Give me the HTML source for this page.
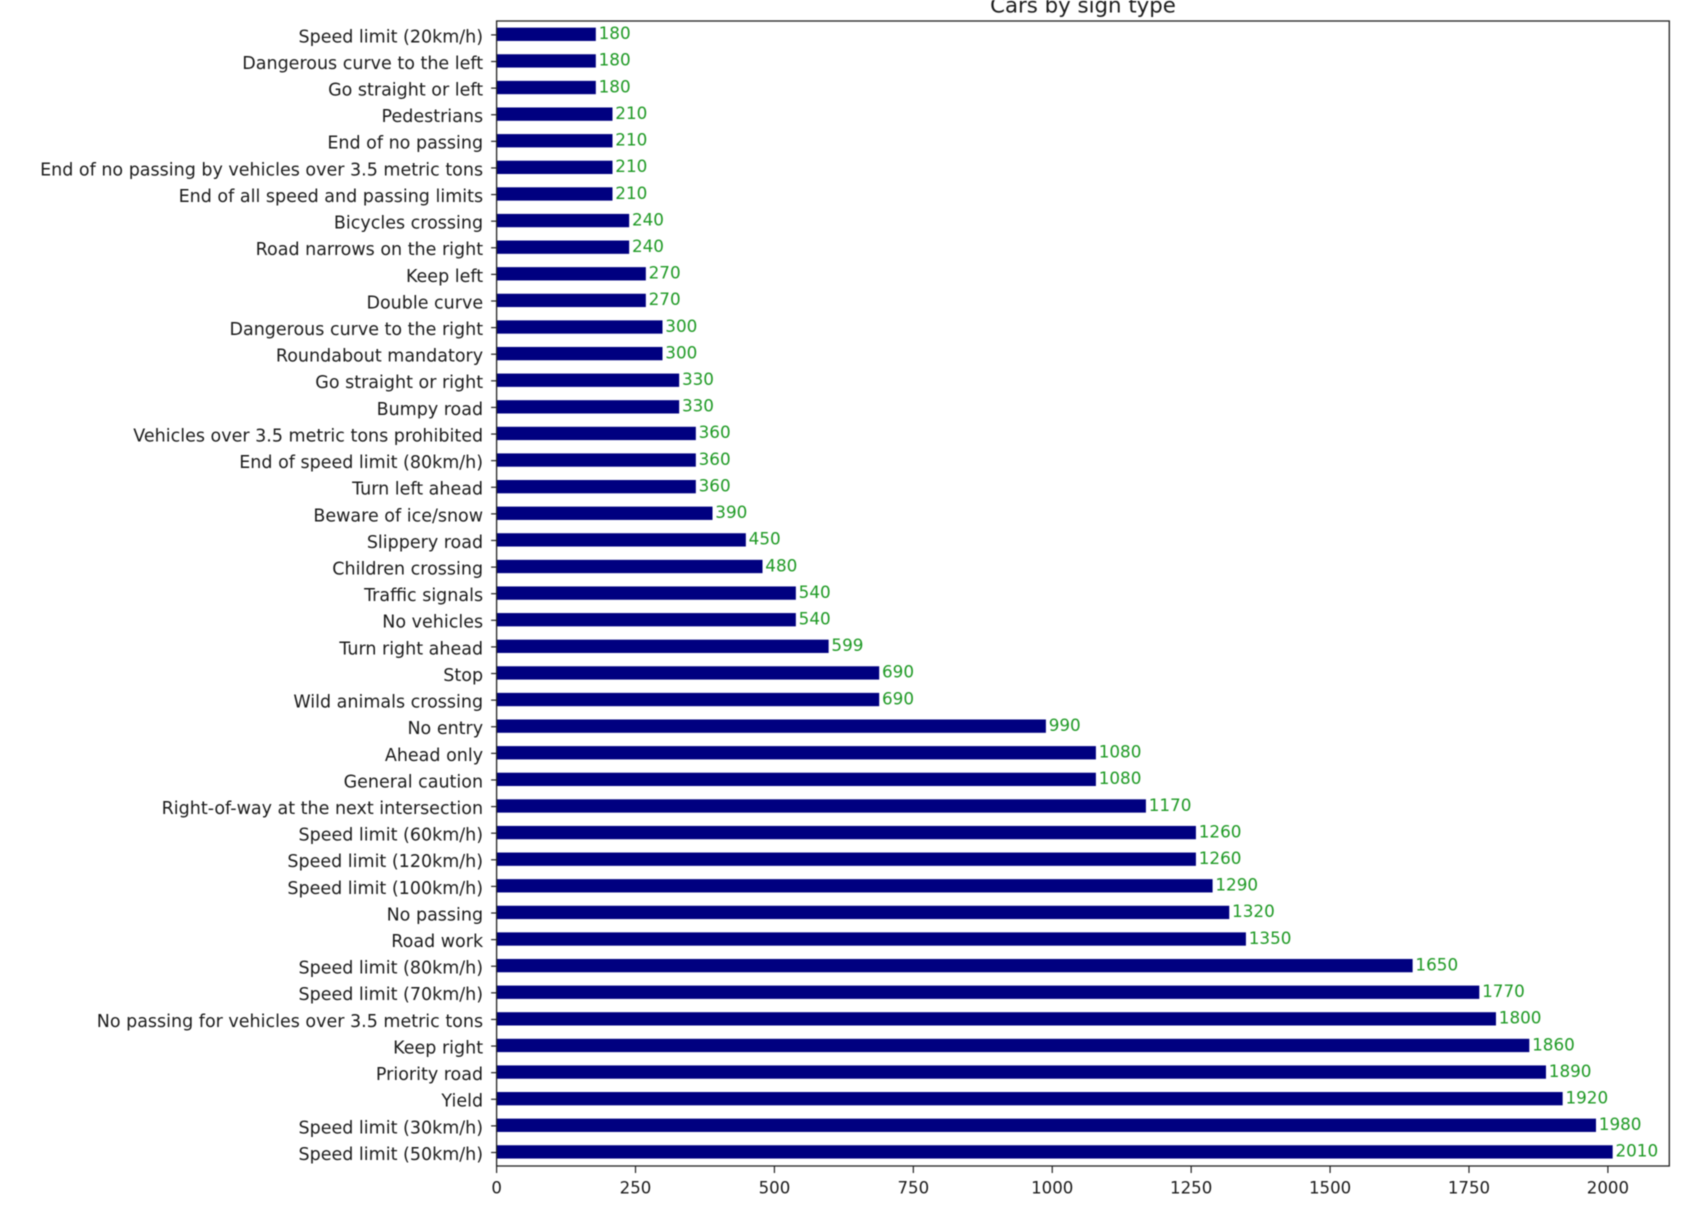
<!DOCTYPE html>
<html>
<head>
<meta charset="utf-8">
<title>Cars by sign type</title>
<style>
  html, body { margin: 0; padding: 0; background: #fff; width: 1698px; height: 1218px; overflow: hidden; }
  svg { display: block; filter: blur(0.5px); }
  text { font-family: "DejaVu Sans", "Liberation Sans", sans-serif; }
</style>
</head>
<body>
<svg id="chart" xmlns="http://www.w3.org/2000/svg" width="1698" height="1218" viewBox="0 0 1698 1218">
  <rect x="0" y="0" width="1698" height="1218" fill="#ffffff"/>
  <text x="1083" y="12.5" font-size="21.3" fill="#1c1c1c" text-anchor="middle">Cars by sign type</text>
  <g id="bars"></g>
  <g id="value-labels"></g>
  <g id="y-axis"></g>
  <g id="x-axis"></g>
  <rect x="496.6" y="21" width="1172.7" height="1145" fill="none" stroke="#222222" stroke-width="1.3"/>
</svg>
<script>
const categories = [
  "Speed limit (50km/h)", "Speed limit (30km/h)", "Yield", "Priority road", "Keep right",
  "No passing for vehicles over 3.5 metric tons", "Speed limit (70km/h)", "Speed limit (80km/h)",
  "Road work", "No passing", "Speed limit (100km/h)", "Speed limit (120km/h)", "Speed limit (60km/h)",
  "Right-of-way at the next intersection", "General caution", "Ahead only", "No entry",
  "Wild animals crossing", "Stop", "Turn right ahead", "No vehicles", "Traffic signals",
  "Children crossing", "Slippery road", "Beware of ice/snow", "Turn left ahead",
  "End of speed limit (80km/h)", "Vehicles over 3.5 metric tons prohibited", "Bumpy road",
  "Go straight or right", "Roundabout mandatory", "Dangerous curve to the right", "Double curve",
  "Keep left", "Road narrows on the right", "Bicycles crossing", "End of all speed and passing limits",
  "End of no passing by vehicles over 3.5 metric tons", "End of no passing", "Pedestrians",
  "Go straight or left", "Dangerous curve to the left", "Speed limit (20km/h)"
];
const counts = [
  2010, 1980, 1920, 1890, 1860,
  1800, 1770, 1650,
  1350, 1320, 1290, 1260, 1260,
  1170, 1080, 1080, 990,
  690, 690, 599, 540, 540,
  480, 450, 390, 360,
  360, 360, 330,
  330, 300, 300, 270,
  270, 240, 240, 210,
  210, 210, 210,
  180, 180, 180
];
const xTicks = [0, 250, 500, 750, 1000, 1250, 1500, 1750, 2000];

const NS = "http://www.w3.org/2000/svg";
const plotLeft = 496.6, plotRight = 1669.3, plotTop = 21, plotBottom = 1165.2;
const xMax = Math.max.apply(null, counts) * 1.05;

function xScale(v) {
  return plotLeft + (v / xMax) * (plotRight - plotLeft);
}
function yScale(i) {
  return plotBottom - ((i + 0.5) / categories.length) * (plotBottom - plotTop);
}
const bandHeight = (plotBottom - plotTop) / categories.length;

function make(tag, attrs, parent, content) {
  const el = document.createElementNS(NS, tag);
  for (const k in attrs) el.setAttribute(k, attrs[k]);
  if (content !== undefined) el.textContent = content;
  parent.appendChild(el);
  return el;
}

const barsG = document.getElementById("bars");
const valuesG = document.getElementById("value-labels");
const yG = document.getElementById("y-axis");
const xG = document.getElementById("x-axis");

categories.forEach(function (name, i) {
  const cy = yScale(i);

  const bar = make("rect", {
    x: xScale(0), y: cy - bandHeight * 0.25,
    width: Math.max(0, xScale(counts[i]) - xScale(0) - 0.8), height: bandHeight * 0.5, fill: "#000080"
  }, barsG);
  
  

  const value = make("text", {
    x: xScale(counts[i]) + 2, y: cy + 4.8, "font-size": 16.8, fill: "#1f9a25"
  }, valuesG, String(counts[i]));
  
  

  const tick = make("line", {
    x1: plotLeft - 5.5, x2: plotLeft, y1: cy + 0.6, y2: cy + 0.6, stroke: "#222222", "stroke-width": 1.2
  }, yG);
  
  

  const label = make("text", {
    x: plotLeft - 13.5, y: cy + 8, "font-size": 17.5, fill: "#1c1c1c", "text-anchor": "end"
  }, yG, name);
  
  
});

xTicks.forEach(function (t) {
  const x = xScale(t);

  const tick = make("line", {
    x1: x, x2: x, y1: 1166, y2: 1173, stroke: "#222222", "stroke-width": 1.2
  }, xG);
  
  

  const label = make("text", {
    x: x, y: 1193.5, "font-size": 16.6, fill: "#1c1c1c", "text-anchor": "middle"
  }, xG, String(t));
  
  
});
</script>
</body>
</html>
